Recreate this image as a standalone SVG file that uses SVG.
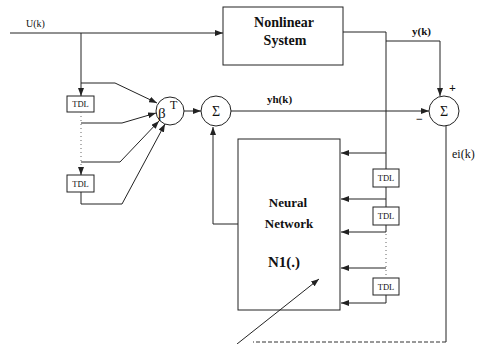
<svg xmlns="http://www.w3.org/2000/svg" width="480" height="344" viewBox="0 0 480 344">
<style>
.ln{fill:none;stroke:#222;stroke-width:1}
.bx{fill:#fff;stroke:#222;stroke-width:1}
.t{font-family:"Liberation Serif",serif;fill:#111}
.b{font-weight:bold}
.tdl{font-family:"Liberation Serif",serif;font-size:8.5px;fill:#111;text-anchor:middle}
.dot{fill:none;stroke:#666;stroke-width:1;stroke-dasharray:1,3}
.dash{fill:none;stroke:#333;stroke-width:1;stroke-dasharray:4,2}
</style>
<defs>
<marker id="ar" markerUnits="userSpaceOnUse" markerWidth="8" markerHeight="6" refX="8" refY="3" orient="auto">
<path d="M0,0 L8,3 L0,6 z" fill="#222"/>
</marker>
</defs>
<rect width="480" height="344" fill="#fff"/>
<g id="input-label"><text class="t" x="26" y="27" font-size="10">U(k)</text></g>
<g id="nonlinear-system">
<rect class="bx" x="223" y="7" width="120" height="58"/>
<text class="t b" x="284" y="27" font-size="14" text-anchor="middle">Nonlinear</text>
<text class="t b" x="285" y="45" font-size="14" text-anchor="middle">System</text>
</g>
<g id="tdl-left-1"><rect class="bx" x="67" y="96" width="27" height="16"/><text class="tdl" x="80.5" y="107">TDL</text></g>
<g id="tdl-left-2"><rect class="bx" x="67" y="175" width="27" height="17"/><text class="tdl" x="80.5" y="187">TDL</text></g>
<g id="beta">
<circle class="bx" cx="170" cy="111" r="14"/>
<text class="t" x="158" y="118" font-size="15">β</text>
<text class="t" x="170" y="109" font-size="12">T</text>
</g>
<g id="sum1"><circle class="bx" cx="216" cy="111" r="15"/><text class="t" x="216" y="116" font-size="14" text-anchor="middle">Σ</text></g>
<g id="sum2"><circle class="bx" cx="444" cy="111" r="15"/><text class="t" x="444" y="116" font-size="14" text-anchor="middle">Σ</text></g>
<g id="labels">
<text class="t b" x="412" y="35" font-size="11">y(k)</text>
<text class="t b" x="267" y="103" font-size="11">yh(k)</text>
<text class="t b" x="449" y="92" font-size="12">+</text>
<text class="t b" x="416" y="123" font-size="12">−</text>
<text class="t" x="452" y="158" font-size="12">ei(k)</text>
</g>
<g id="neural-network">
<rect class="bx" x="238" y="139" width="102" height="171"/>
<text class="t b" x="288" y="207" font-size="13" text-anchor="middle">Neural</text>
<text class="t b" x="289" y="228" font-size="13" text-anchor="middle">Network</text>
<text class="t b" x="284" y="267" font-size="15" text-anchor="middle">N1(.)</text>
</g>
<g id="tdl-right-1"><rect class="bx" x="373" y="169" width="26" height="18"/><text class="tdl" x="386" y="181">TDL</text></g>
<g id="tdl-right-2"><rect class="bx" x="373" y="207" width="26" height="18"/><text class="tdl" x="386" y="219">TDL</text></g>
<g id="tdl-right-3"><rect class="bx" x="373" y="278" width="26" height="17"/><text class="tdl" x="386" y="290">TDL</text></g>
<g id="connectors">
<path class="ln" d="M10,33 H223" marker-end="url(#ar)"/>
<path class="ln" d="M81,33 V96" marker-end="url(#ar)"/>
<path class="ln" d="M81,83 H115 L157,103" marker-end="url(#ar)"/>
<path class="ln" d="M81,123 H122 L156,113" marker-end="url(#ar)"/>
<path class="ln" d="M81,162 H120 L159,121" marker-end="url(#ar)"/>
<path class="ln" d="M81,192 V204 H122 L165,124" marker-end="url(#ar)"/>
<path class="dot" d="M81,112 V166"/>
<path class="ln" d="M81,167 V175" marker-end="url(#ar)"/>
<path class="ln" d="M184,111 H201" marker-end="url(#ar)"/>
<path class="ln" d="M231,111 H429" marker-end="url(#ar)"/>
<path class="ln" d="M343,32 H386 V169"/>
<path class="ln" d="M386,41 H440 V96" marker-end="url(#ar)"/>
<path class="ln" d="M386,153 H341" marker-end="url(#ar)"/>
<path class="ln" d="M386,187 V207"/>
<path class="ln" d="M386,199 H341" marker-end="url(#ar)"/>
<path class="ln" d="M386,225 V232 H341" marker-end="url(#ar)"/>
<path class="dot" d="M386,234 V278"/>
<path class="ln" d="M386,268 H341" marker-end="url(#ar)"/>
<path class="ln" d="M386,295 V303 H341" marker-end="url(#ar)"/>
<path class="ln" d="M238,224 H213 V127" marker-end="url(#ar)"/>
<path class="ln" d="M446,126 V342"/>
<path class="dash" d="M446,342 H253"/>
<path class="ln" d="M237,344 L319,279" marker-end="url(#ar)"/>
</g>
</svg>
